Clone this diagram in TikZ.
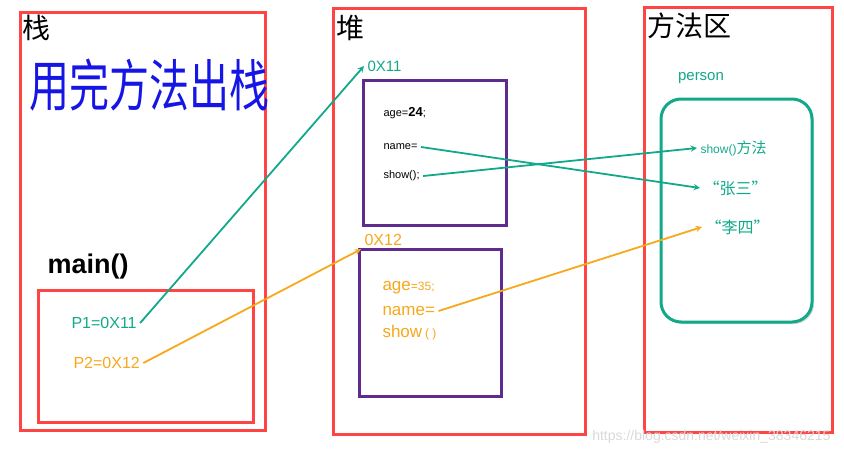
\documentclass[tikz,border=0pt]{standalone}
\usepackage{fontspec}
\setmainfont{Liberation Sans}
\newfontfamily\cjk{Noto Sans CJK SC}
\usetikzlibrary{shadows}
\definecolor{boxred}{HTML}{FF4444}
\definecolor{memteal}{HTML}{12A98A}
\definecolor{memorange}{HTML}{F7A81B}
\definecolor{objpurple}{HTML}{5F2B8E}
\definecolor{penblue}{HTML}{1515E6}
\newcommand{\fsz}[1]{\fontsize{#1}{#1}\selectfont}

\begin{document}
\begin{tikzpicture}[x=1pt,y=-1pt,>=stealth,
    area/.style={draw=boxred,line width=3pt,fill=white,
      drop shadow={shadow xshift=2pt,shadow yshift=-2pt,opacity=.3}},
    objbox/.style={draw=objpurple,line width=3pt,fill=white,
      drop shadow={shadow xshift=2pt,shadow yshift=-2pt,opacity=.3}},
    classbox/.style={draw=memteal,line width=3pt,fill=white,rounded corners=20pt,
      drop shadow={shadow xshift=2pt,shadow yshift=-2pt,opacity=.3}},
    title/.style={anchor=north west,inner sep=1pt,font=\cjk\fsz{28}},
    ptr/.style={->,draw=#1,line width=1.8pt}]
  \useasboundingbox (0,0) rectangle (844,453);
  % stack
  \draw[area] (20,12) rectangle (265,430);
  \draw[area] (38,290) rectangle (253,422);
  \node[title] (stk) at (21,14) {栈};
  \node[text=penblue,font=\cjk\fsz{40}] (note) at (150,85) {\scalebox{1}[1.4]{用完方法出栈}};
  \node[font=\bfseries\fsz{27}] (main) at (88,267) {main()};
  \node[anchor=west,text=memteal,font=\fsz{16}] (p1) at (68,323) {P1=0X11};
  \node[anchor=west,text=memorange,font=\fsz{16}] (p2) at (70,363) {P2=0X12};
  % heap
  \draw[area] (333,8) rectangle (585,434);
  \node[title] (heap) at (335,14) {堆};
  \node[anchor=west,text=memteal,font=\fsz{15}] (a1) at (364,66) {0X11};
  \draw[objbox] (363,80) rectangle (506,225);
  \node[anchor=west,font=\fsz{11}] (age1) at (380,113) {age={\fsz{13}\bfseries 24};};
  \node[anchor=west,font=\fsz{11}] (name1) at (380,147) {name=};
  \node[anchor=west,font=\fsz{11}] (show1) at (380,176) {show();};
  \node[anchor=west,text=memorange,font=\fsz{16}] (a2) at (361,240) {0X12};
  \draw[objbox] (359,249) rectangle (501,396);
  \node[anchor=west,text=memorange,font=\fsz{17}] (age2) at (379,288) {age{\fsz{12}=35;}};
  \node[anchor=west,text=memorange,font=\fsz{17}] (name2) at (379,311) {name=};
  \node[anchor=west,text=memorange,font=\fsz{17}] (show2) at (379,333) {show\,{\fsz{12}( )}};
  % method area
  \draw[area] (644,7) rectangle (832,432);
  \node[title] (meth) at (646,12) {方法区};
  \node[text=memteal,font=\fsz{15}] (cls) at (701,78) {person};
  \draw[classbox] (661,99) rectangle (812,322);
  \node[anchor=west,text=memteal,font=\fsz{12}] (mshow) at (697,148) {show(){\cjk\fsz{15}方法}};
  \node[anchor=west,text=memteal,font=\cjk\fsz{16}] (zs) at (700,188) {“张三”};
  \node[anchor=west,text=memteal,font=\cjk\fsz{16}] (ls) at (702,227) {“李四”};
  % pointers
  \draw[ptr=memteal] (p1.east) -- (a1.west);
  \draw[ptr=memorange] (p2.east) -- (a2.south west);
  \draw[ptr=memteal] (name1.east) -- (zs.west);
  \draw[ptr=memteal] (show1.east) -- (mshow.west);
  \draw[ptr=memorange] (name2.east) -- (ls.west);
  \node[anchor=east,text=gray!30,font=\fsz{14}] (wm) at (834,437) {https://blog.csdn.net/weixin\_38346215};
\end{tikzpicture}
\end{document}
